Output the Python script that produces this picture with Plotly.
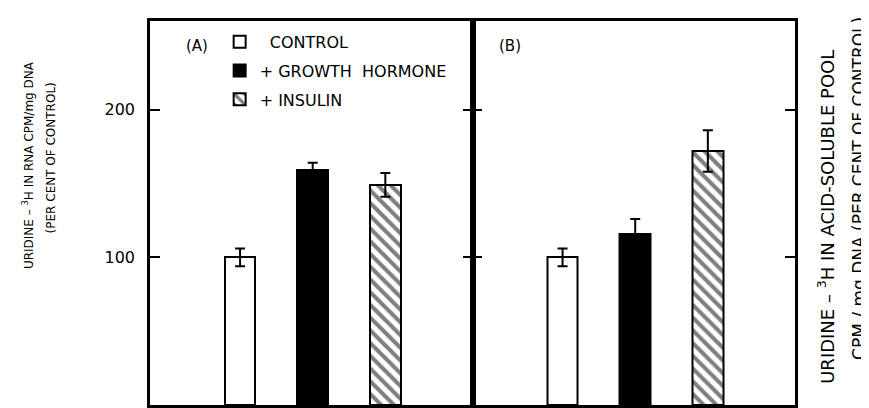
import plotly.graph_objects as go
from plotly.subplots import make_subplots

# treatments (x categories) and legend names
treatments = ["CONTROL", "+ GROWTH HORMONE", "+ INSULIN"]
legend_names = ["\u00a0\u00a0CONTROL", "+ GROWTH\u00a0\u00a0HORMONE", "+ INSULIN"]

# (A) uridine-3H in RNA, per cent of control
rna_values = [100, 159, 149]
rna_err = [6, 5, 8]

# (B) uridine-3H in acid-soluble pool, per cent of control
pool_values = [100, 116, 172]
pool_err = [6, 10, 14]

y_ticks = [100, 200]

FONT = "DejaVu Sans"

fills = ["white", "black", "white"]
patterns = ["", "", "\\"]

fig = make_subplots(rows=1, cols=2, horizontal_spacing=0, shared_yaxes=False)

for panel, (vals, errs) in enumerate([(rna_values, rna_err), (pool_values, pool_err)]):
    for i, t in enumerate(treatments):
        fig.add_trace(go.Bar(
            x=[t], y=[vals[i]], name=legend_names[i],
            legendgroup=t, showlegend=(panel == 0),
            width=0.42,
            marker=dict(color=fills[i], line=dict(color="black", width=2),
                        pattern=dict(shape=patterns[i], fgcolor="black", bgcolor="white",
                                     size=9, solidity=0.45)),
            error_y=dict(type="data", array=[errs[i]], color="black", thickness=2, width=5),
        ), row=1, col=panel + 1)

axis_common = dict(showline=True, linewidth=2.5, linecolor="black", mirror="ticks",
                   showgrid=False, zeroline=False)

fig.update_xaxes(**axis_common, type="category", categoryorder="array",
                 categoryarray=treatments, range=[-1.24, 3.2], showticklabels=False, ticks="")
fig.update_yaxes(**axis_common, range=[0, 260], tickvals=y_ticks, ticks="inside",
                 ticklen=10, tickwidth=2, tickcolor="black")
fig.update_yaxes(showticklabels=True, ticktext=[str(v) for v in y_ticks],
                 tickfont=dict(family=FONT, size=16, color="black"),
                 ticklabelstandoff=9, row=1, col=1)
fig.update_yaxes(showticklabels=False, row=1, col=2)

annotations = [
    dict(text="(A)", x=0.073, y=0.935, font_size=15),
    dict(text="(B)", x=0.558, y=0.935, font_size=15),
    dict(text="URIDINE \u2013 <sup>3</sup>H IN RNA CPM/mg DNA", x=-0.188, y=0.624,
         textangle=-90, font_size=12),
    dict(text="(PER CENT OF CONTROL)", x=-0.153, y=0.643, textangle=-90, font_size=12),
    dict(text="URIDINE \u2013 <sup>3</sup>H IN ACID-SOLUBLE POOL", x=1.048, y=0.49,
         textangle=-90, font_size=18),
    dict(text="CPM / mg DNA (PER CENT OF CONTROL)", x=1.099, y=0.565,
         textangle=-90, font_size=17),
]
for a in annotations:
    fig.add_annotation(xref="paper", yref="paper", showarrow=False,
                       xanchor="center", yanchor="middle",
                       font=dict(family=FONT, size=a.pop("font_size"), color="black"), **a)

# page body has an 8px margin, so margins are shifted by 8px
fig.update_layout(
    width=869, height=408,
    margin=dict(l=142, r=82, t=10, b=11),
    plot_bgcolor="white", paper_bgcolor="white",
    bargap=0,
    legend=dict(x=0.108, y=0.99, xanchor="left", yanchor="top",
                bgcolor="rgba(0,0,0,0)", tracegroupgap=5, traceorder="grouped",
                font=dict(family=FONT, size=16, color="black")),
    font=dict(family=FONT, color="black"),
)

fig.write_html("out.html")
